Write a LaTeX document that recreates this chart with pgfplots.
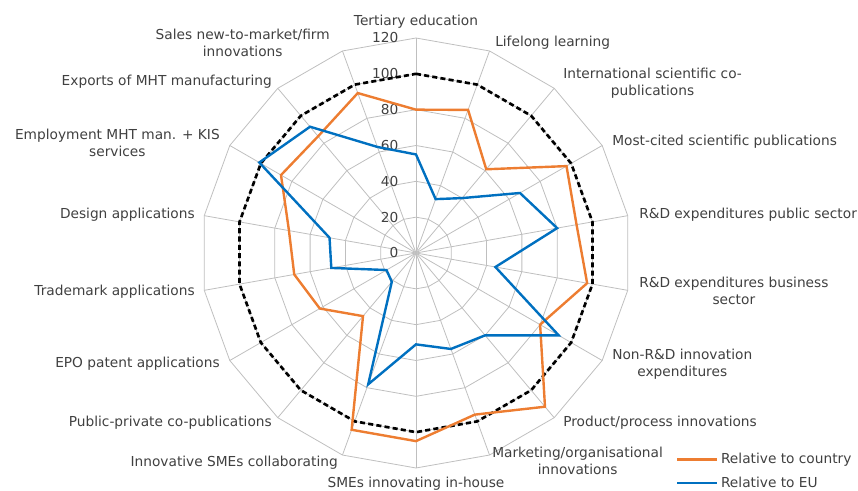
\documentclass[border=0pt]{standalone}
\usepackage{fontspec}
\setmainfont{DejaVu Sans}
\usepackage{pgfplots}
\pgfplotsset{compat=1.18}
\usepgfplotslibrary{polar}
\definecolor{ctry}{RGB}{237,125,49}
\definecolor{eu}{RGB}{0,112,192}
\definecolor{gridc}{RGB}{191,191,191}
\definecolor{txt}{RGB}{64,64,64}

\begin{document}
\begin{tikzpicture}[font=\fontsize{10.3}{12.8}\selectfont]
\useasboundingbox (-312pt,-178.5pt) rectangle (331.5pt,189.75pt);
\begin{polaraxis}[
  at={(0,0)}, anchor=center,
  scale only axis, width=322.5pt, height=322.5pt,
  xmin=0, xmax=360, ymin=0, ymax=120,
  hide axis, clip=false,
  legend style={at={(axis description cs:1.104,0.041)}, anchor=north west,
    draw=none, fill=none, inner sep=0pt, row sep=4.5pt,
    font=\fontsize{10.3}{11}\selectfont, text=txt},
  legend cell align=left,
  legend image code/.code={\draw[#1] (0pt,0pt) -- (30pt,0pt);},
]
% web: rings and spokes
\pgfplotsinvokeforeach{20,40,60,80,100,120}{
  \draw[gridc, line width=0.6pt] (axis cs:90,#1)
    \foreach \a in {70,50,...,-250} {-- (axis cs:\a,#1)} -- cycle;
}
\pgfplotsinvokeforeach{90,70,...,-250}{
  \draw[gridc, line width=0.6pt] (axis cs:0,0) -- (axis cs:#1,120);
}
\pgfplotsinvokeforeach{0,20,...,120}{
  \node[anchor=east, inner sep=0pt, text=txt, xshift=-13pt] at (axis cs:90,#1) {#1};
}

% EU = 100
\addplot[black, line width=2pt, dash pattern=on 3.8pt off 2.4pt, forget plot]
  coordinates {(90,100) (70,100) (50,100) (30,100) (10,100) (350,100)
    (330,100) (310,100) (290,100) (270,100) (250,100) (230,100) (210,100)
    (190,100) (170,100) (150,100) (130,100) (110,100)} -- cycle;

\addplot[ctry, line width=1.8pt, line join=miter]
  coordinates {(90,80) (70,85) (50,61) (30,97) (10,91) (350,97)
    (330,80) (310,112) (290,96) (270,105) (250,105) (230,46) (210,62)
    (190,69) (170,72) (150,87) (130,85) (110,95)} -- cycle;
\addlegendentry{Relative to country}

\addplot[eu, line width=1.8pt, line join=miter]
  coordinates {(90,55) (70,32) (50,40) (30,67) (10,80) (350,45)
    (330,92) (310,60) (290,57) (270,51) (250,78) (230,21) (210,19)
    (190,48) (170,49) (150,101) (130,92) (110,63)} -- cycle;
\addlegendentry{Relative to EU}
\end{polaraxis}

\begin{scope}[every node/.style={inner sep=0pt, text=txt, align=center}]
\node[anchor=center] at (0,173.25pt) {Tertiary education};
\node[anchor=west] at (59.25pt,157.5pt) {Lifelong learning};
\node[anchor=west] at (110.25pt,127.5pt) {International scientific co-\\publications};
\node[anchor=west] at (147pt,83.25pt) {Most-cited scientific publications};
\node[anchor=west] at (167.25pt,28.5pt) {R\&D expenditures public sector};
\node[anchor=west] at (167.25pt,-28.5pt) {R\&D expenditures business\\sector};
\node[anchor=west] at (147pt,-83.25pt) {Non-R\&D innovation\\expenditures};
\node[anchor=west] at (110.25pt,-127.5pt) {Product/process innovations};
\node[anchor=west] at (57pt,-156pt) {Marketing/organisational\\innovations};
\node[anchor=center] at (0,-173.25pt) {SMEs innovating in-house};
\node[anchor=east] at (-58.5pt,-157.5pt) {Innovative SMEs collaborating};
\node[anchor=east] at (-108pt,-127.5pt) {Public-private co-publications};
\node[anchor=east] at (-147pt,-83.25pt) {EPO patent applications};
\node[anchor=east] at (-165.75pt,-29.25pt) {Trademark applications};
\node[anchor=east] at (-165.75pt,28.5pt) {Design applications};
\node[anchor=east] at (-147pt,82.5pt) {Employment MHT man. + KIS\\services};
\node[anchor=east] at (-108pt,128.25pt) {Exports of MHT manufacturing};
\node[anchor=east] at (-64.5pt,157.5pt) {Sales new-to-market/firm\\innovations};
\end{scope}
\end{tikzpicture}
\end{document}
